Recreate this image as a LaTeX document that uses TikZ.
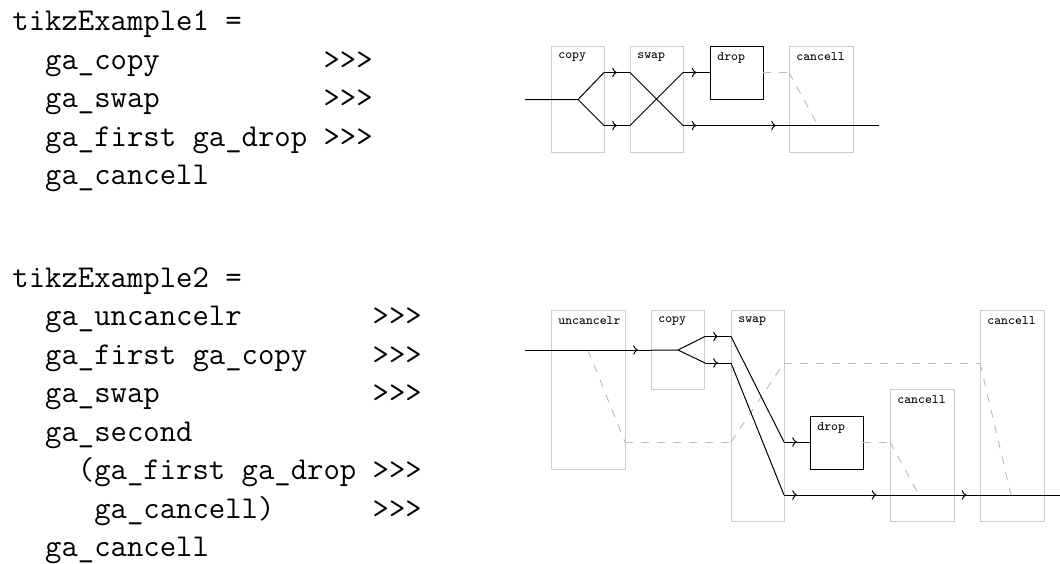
\documentclass[tikz,border=0pt]{standalone}
\usetikzlibrary{positioning,arrows.meta,decorations.markings}
\tikzset{
  gatebox/.style={draw=black!20,line width=.5pt,anchor=north west,inner sep=0pt,minimum width=53*.5pt},
  dropbox/.style={draw=black,line width=.5pt,anchor=north west,inner sep=0pt},
  gatelabel/.style={anchor=north west,inner sep=0pt,xshift=3.5pt,yshift=-3.3pt,font=\fontsize{6.5}{7}\ttfamily},
  codeblock/.style={anchor=north west,inner sep=0pt,align=left,font=\fontsize{15.9}{19.25}\ttfamily},
  wire/.style={black,line width=.5pt,postaction={decorate},decoration={markings,mark=at position .5 with {\arrow{Computer Modern Rightarrow[length=2.4pt,width=4.8pt]}}}},
  plain/.style={black,line width=.5pt},
  gone/.style={black!25,line width=.5pt,dash pattern=on 4pt off 4pt}
}
\begin{document}
\begin{tikzpicture}[x=.5pt,y=-.5pt]
\useasboundingbox (0,0) rectangle (1060,563);

\node[codeblock] (code1) at (12,10.5) {tikzExample1 =\\
~~ga\_copy~~~~~~~~~~>>>\\
~~ga\_swap~~~~~~~~~~>>>\\
~~ga\_first ga\_drop >>>\\
~~ga\_cancell};

\node[codeblock] (code2) at (12,267) {tikzExample2 =\\
~~ga\_uncancelr~~~~~~~~>>>\\
~~ga\_first ga\_copy~~~~>>>\\
~~ga\_swap~~~~~~~~~~~~~>>>\\
~~ga\_second\\
~~~~(ga\_first ga\_drop >>>\\
~~~~~ga\_cancell)~~~~~~>>>\\
~~ga\_cancell};

% first
\node[gatebox,minimum height=53pt] (copyA) at (551,46) {};
\node[gatebox,minimum height=53pt] (swapA) at (630,46) {};
\node[dropbox,minimum width=26.5pt,minimum height=26.5pt] (dropA) at (710,46) {};
\node[gatebox,minimum width=32pt,minimum height=53pt] (cancA) at (789,46) {};
\node[gatelabel] (copyAt) at (copyA.north west) {copy};
\node[gatelabel] (swapAt) at (swapA.north west) {swap};
\node[gatelabel] (dropAt) at (dropA.north west) {drop};
\node[gatelabel] (cancAt) at (cancA.north west) {cancell};

\coordinate (a0) at (525,99.5);
\coordinate (a1) at (578,99.5);
\coordinate (a2) at (604,72.5);
\coordinate (a3) at (604,125.5);
\coordinate (a4) at (630,72.5);
\coordinate (a5) at (630,125.5);
\coordinate (a6) at (683,72.5);
\coordinate (a7) at (683,125.5);
\coordinate (a8) at (710,72.5);
\coordinate (a9) at (710,125.5);
\coordinate (a10) at (763,125.5);
\coordinate (a11) at (789,125.5);
\coordinate (a12) at (879,125.5);
\coordinate (a13) at (763,72.5);
\coordinate (a14) at (789,72.5);
\coordinate (a15) at (818,125.5);

\draw[gone] (a13) -- (a14);
\draw[gone] (a14) -- (a15);
\draw[plain] (a0) -- (a1) -- (a2) (a1) -- (a3);
\draw[wire] (a2) -- (a4);
\draw[wire] (a3) -- (a5);
\draw[plain] (a4) -- (a7) (a5) -- (a6);
\draw[wire] (a6) -- (a8);
\draw[wire] (a7) -- (a9);
\draw[plain] (a9) -- (a10);
\draw[wire] (a10) -- (a11);
\draw[plain] (a11) -- (a12);

% second
\node[gatebox,minimum width=37pt,minimum height=79.5pt] (uncB) at (551,310) {};
\node[gatebox,minimum height=39.5pt] (copyB) at (651,310) {};
\node[gatebox,minimum height=105.5pt] (swapB) at (731,310) {};
\node[dropbox,minimum width=26.5pt,minimum height=26.5pt] (dropB) at (810,416) {};
\node[gatebox,minimum width=32pt,minimum height=66pt] (cancB) at (890,389) {};
\node[gatebox,minimum width=32pt,minimum height=105.5pt] (cancC) at (980,310) {};
\node[gatelabel] (uncBt) at (uncB.north west) {uncancelr};
\node[gatelabel] (copyBt) at (copyB.north west) {copy};
\node[gatelabel] (swapBt) at (swapB.north west) {swap};
\node[gatelabel] (dropBt) at (dropB.north west) {drop};
\node[gatelabel] (cancBt) at (cancB.north west) {cancell};
\node[gatelabel] (cancCt) at (cancC.north west) {cancell};

\coordinate (b0) at (525,350);
\coordinate (b1) at (625,350);
\coordinate (b2) at (651,350);
\coordinate (b3) at (678,350);
\coordinate (b4) at (705,336.5);
\coordinate (b5) at (705,363);
\coordinate (b6) at (731,336.5);
\coordinate (b7) at (731,363);
\coordinate (b8) at (784,442);
\coordinate (b9) at (784,495);
\coordinate (b10) at (810,442);
\coordinate (b11) at (810,495);
\coordinate (b12) at (863,495);
\coordinate (b13) at (890,495);
\coordinate (b14) at (953,495);
\coordinate (b15) at (980,495);
\coordinate (b16) at (1060,495);

\coordinate (c0) at (588,350);
\coordinate (c1) at (625,442);
\coordinate (c2) at (731,442);
\coordinate (c3) at (784,363);
\coordinate (c4) at (980,363);
\coordinate (c5) at (1011,495);
\coordinate (c6) at (863,442);
\coordinate (c7) at (890,442);
\coordinate (c8) at (919,495);

\draw[gone] (c0) -- (c1);
\draw[gone] (c1) -- (c2);
\draw[gone] (c2) -- (c3);
\draw[gone] (c3) -- (c4);
\draw[gone] (c4) -- (c5);
\draw[gone] (c6) -- (c7);
\draw[gone] (c7) -- (c8);
\draw[plain] (b0) -- (b1);
\draw[wire] (b1) -- (b2);
\draw[plain] (b2) -- (b3) -- (b4) (b3) -- (b5);
\draw[wire] (b4) -- (b6);
\draw[wire] (b5) -- (b7);
\draw[plain] (b6) -- (b8) (b7) -- (b9);
\draw[wire] (b8) -- (b10);
\draw[wire] (b9) -- (b11);
\draw[plain] (b11) -- (b12);
\draw[wire] (b12) -- (b13);
\draw[plain] (b13) -- (b14);
\draw[wire] (b14) -- (b15);
\draw[plain] (b15) -- (b16);
\end{tikzpicture}
\end{document}
